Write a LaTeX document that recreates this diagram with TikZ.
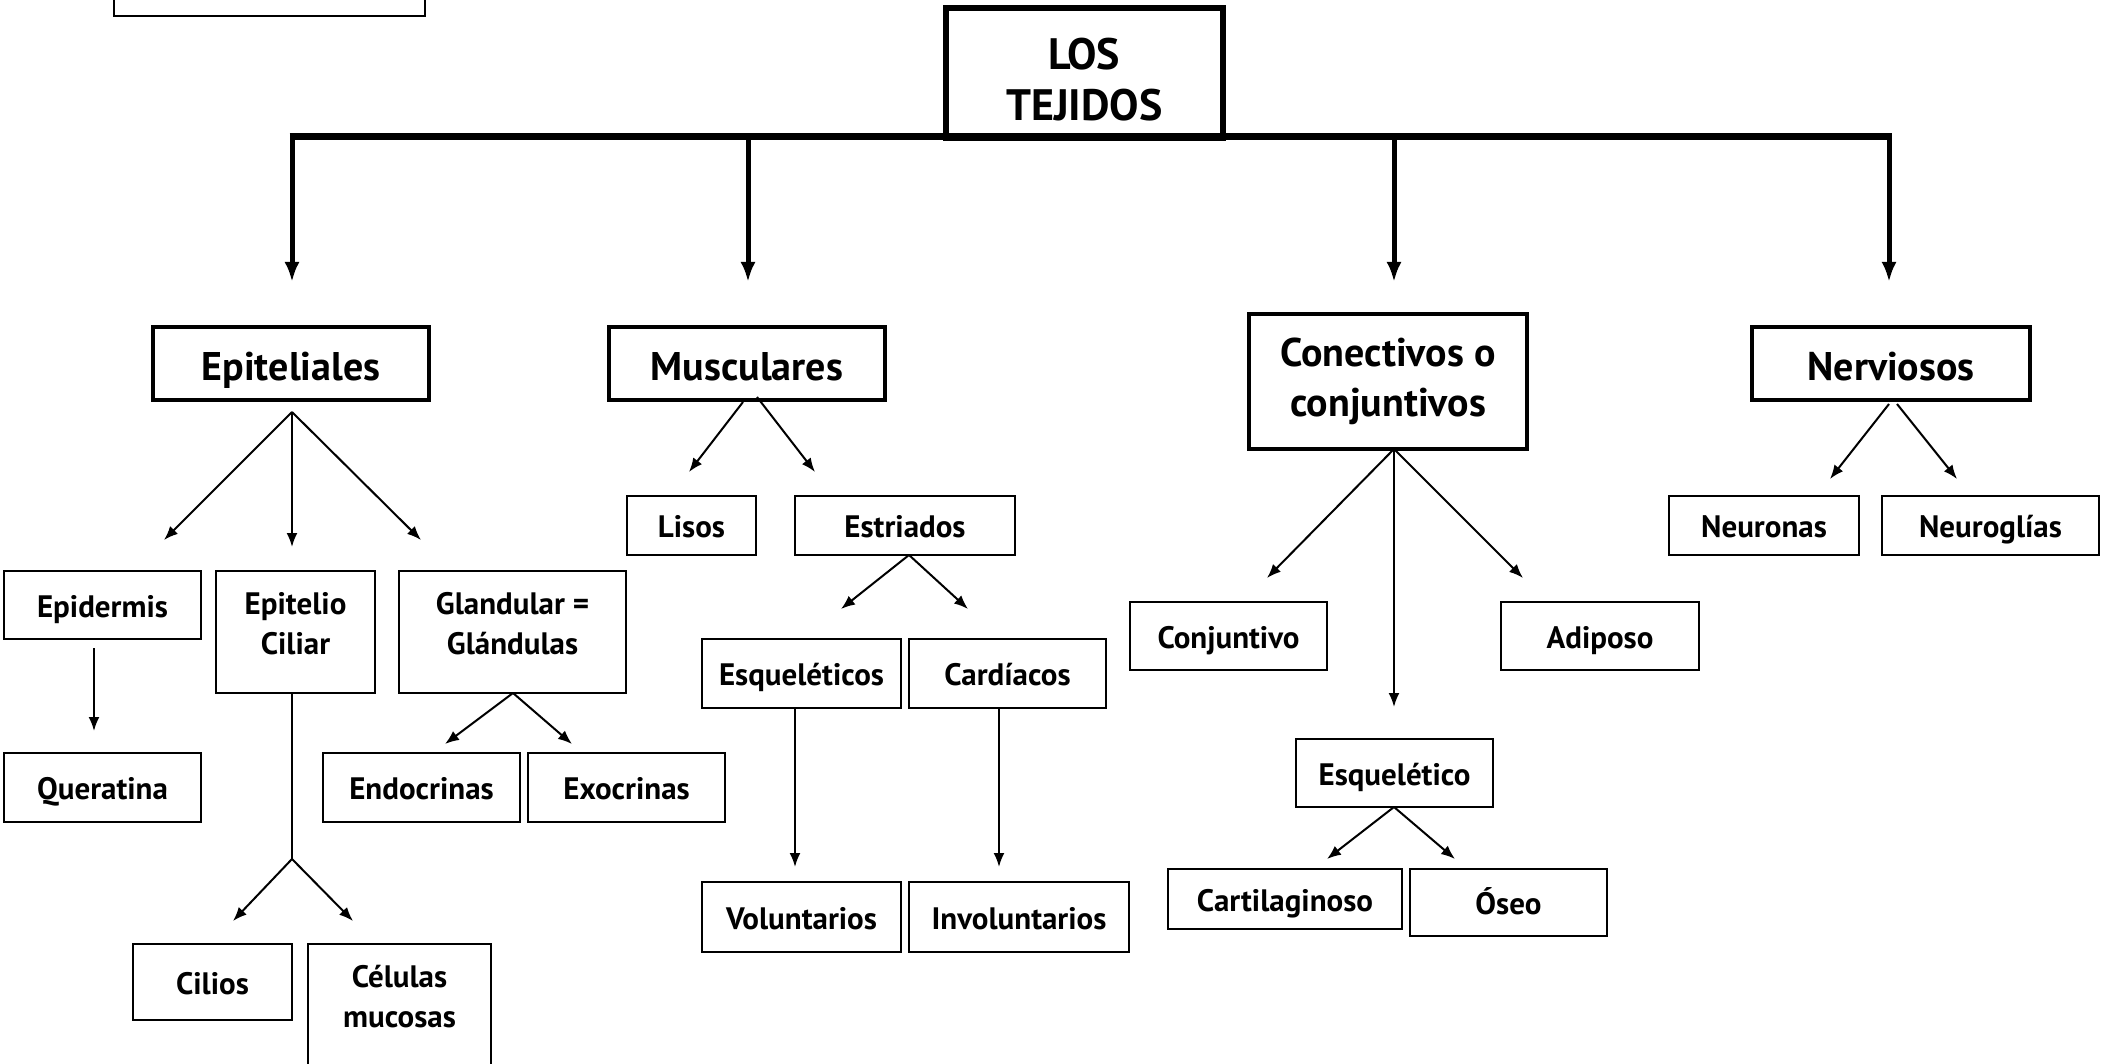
\documentclass[tikz,border=0pt]{standalone}
\usepackage{fontspec}
\setmainfont{PT Sans}
\usetikzlibrary{arrows.meta}
\tikzset{
  box/.style={draw, line width=2.5, inner sep=0, align=center, font=\fontsize{31}{40}\selectfont\bfseries},
  onebox/.style={box, text height=24, text depth=0},
  bigbox/.style={box, line width=4, font=\fontsize{40}{50}\selectfont\bfseries},
  bigone/.style={bigbox, text height=35, text depth=0},
  titlebox/.style={draw, line width=6, inner sep=0},
  titletext/.style={inner sep=0, align=center, font=\fontsize{44}{51}\selectfont\bfseries},
  thin/.style={line width=2, -{Latex[length=14,width=11]}},
  plain/.style={line width=2},
  thick/.style={line width=5, -{Latex[length=20,width=15]}},
  bar/.style={line width=7}
}
\begin{document}
\begin{tikzpicture}[x=1pt,y=-1pt]
\useasboundingbox (0,0) rectangle (2102,1064);
% partial box at top left
\node[draw, line width=1.5, minimum width=311, minimum height=52] (topbox) at (269.5,-10) {};
% title
\node[titlebox, minimum width=277, minimum height=130] (title) at (1084.5,73) {};
\node[titletext] (titlelbl) at ([yshift=-7]title.center) {LOS\\TEJIDOS};
% level 1
\node[bigone, minimum width=276, minimum height=73] (epi) at (291,363.5) {Epiteliales};
\node[bigone, minimum width=276, minimum height=73] (mus) at (747,363.5) {Musculares};
\node[bigbox, minimum width=278, minimum height=135] (con) at (1388,381.5) {Conectivos o\\conjuntivos};
\node[bigone, minimum width=278, minimum height=73] (ner) at (1891,363.5) {Nerviosos};
% epiteliales children
\node[onebox, minimum width=197, minimum height=68] (epid) at (102.5,605) {Epidermis};
\node[box, minimum width=159, minimum height=122, text depth=18] (cil) at (295.5,632) {Epitelio\\Ciliar};
\node[box, minimum width=227, minimum height=122, text depth=18] (gla) at (512.5,632) {Glandular =\\Glándulas};
\node[onebox, minimum width=197, minimum height=69] (quer) at (102.5,787.5) {Queratina};
\node[onebox, minimum width=159, minimum height=76] (cilios) at (212.5,982) {Cilios};
\node[box, minimum width=183, minimum height=131, text depth=26] (cel) at (399.5,1009.5) {Células\\mucosas};
\node[onebox, minimum width=197, minimum height=69] (endo) at (421.5,787.5) {Endocrinas};
\node[onebox, minimum width=197, minimum height=69] (exo) at (626.5,787.5) {Exocrinas};
% musculares children
\node[onebox, minimum width=129, minimum height=59] (lis) at (691.5,525.5) {Lisos};
\node[onebox, minimum width=220, minimum height=59] (est) at (905,525.5) {Estriados};
\node[onebox, minimum width=199, minimum height=69] (esqs) at (801.5,673.5) {Esqueléticos};
\node[onebox, minimum width=197, minimum height=69] (card) at (1007.5,673.5) {Cardíacos};
\node[onebox, minimum width=199, minimum height=70] (vol) at (801.5,917) {Voluntarios};
\node[onebox, minimum width=220, minimum height=70] (invol) at (1019,917) {Involuntarios};
% conectivos children
\node[onebox, minimum width=197, minimum height=68] (conj) at (1228.5,636) {Conjuntivo};
\node[onebox, minimum width=198, minimum height=68] (adi) at (1600,636) {Adiposo};
\node[onebox, minimum width=197, minimum height=68] (esq) at (1394.5,773) {Esquelético};
\node[onebox, minimum width=234, minimum height=60] (cart) at (1285,899) {Cartilaginoso};
\node[onebox, minimum width=197, minimum height=67] (ose) at (1508.5,902.5) {Óseo};
% nerviosos children
\node[onebox, minimum width=190, minimum height=59] (neu) at (1764,525.5) {Neuronas};
\node[onebox, minimum width=217, minimum height=59] (glia) at (1990.5,525.5) {Neuroglías};

% coordinates
\coordinate (b1) at (292,137); \coordinate (b2) at (748,137);
\coordinate (b3) at (1394,137); \coordinate (b4) at (1889,137);
\coordinate (t1) at (292,282); \coordinate (t2) at (748,282);
\coordinate (t3) at (1394,282); \coordinate (t4) at (1889,282);
\draw[bar] ([xshift=-2.5]b1) -- ([xshift=2.5]b4);
\draw[thick] (b1) -- (t1);
\draw[thick] (b2) -- (t2);
\draw[thick] (b3) -- (t3);
\draw[thick] (b4) -- (t4);

% epiteliales
\coordinate (e0) at (292,412);
\coordinate (e1) at (164,540); \coordinate (e2) at (292,547); \coordinate (e3) at (421,540);
\draw[thin] (e0) -- (e1);
\draw[thin] (e0) -- (e2);
\draw[thin] (e0) -- (e3);
\coordinate (q0) at (94,648); \coordinate (q1) at (94,731);
\draw[thin] (q0) -- (q1);
\coordinate (c0) at (292,693); \coordinate (cj) at (292,859);
\coordinate (c1) at (233,921); \coordinate (c2) at (353,921);
\draw[plain] (c0) -- (cj);
\draw[thin] (cj) -- (c1);
\draw[thin] (cj) -- (c2);
\coordinate (g0) at (513,693);
\coordinate (g1) at (445,744); \coordinate (g2) at (572,744);
\draw[thin] (g0) -- (g1);
\draw[thin] (g0) -- (g2);

% musculares
\coordinate (m0a) at (743,402); \coordinate (m0b) at (757,397);
\coordinate (m1) at (689,472); \coordinate (m2) at (815,472);
\draw[thin] (m0a) -- (m1);
\draw[thin] (m0b) -- (m2);
\coordinate (s0) at (909,555);
\coordinate (s1) at (841,609); \coordinate (s2) at (968,609);
\draw[thin] (s0) -- (s1);
\draw[thin] (s0) -- (s2);
\coordinate (v0) at (795,708); \coordinate (v1) at (795,867);
\coordinate (i0) at (999,708); \coordinate (i1) at (999,867);
\draw[thin] (v0) -- (v1);
\draw[thin] (i0) -- (i1);

% conectivos
\coordinate (k0) at (1394,449);
\coordinate (k1) at (1267,578); \coordinate (k2) at (1394,707); \coordinate (k3) at (1523,578);
\draw[thin] (k0) -- (k1);
\draw[thin] (k0) -- (k2);
\draw[thin] (k0) -- (k3);
\coordinate (x0) at (1394,807);
\coordinate (x1) at (1327,859); \coordinate (x2) at (1455,859);
\draw[thin] (x0) -- (x1);
\draw[thin] (x0) -- (x2);

% nerviosos
\coordinate (n0a) at (1889,404); \coordinate (n0b) at (1897,404);
\coordinate (n1) at (1830,479); \coordinate (n2) at (1957,479);
\draw[thin] (n0a) -- (n1);
\draw[thin] (n0b) -- (n2);
\end{tikzpicture}
\end{document}
